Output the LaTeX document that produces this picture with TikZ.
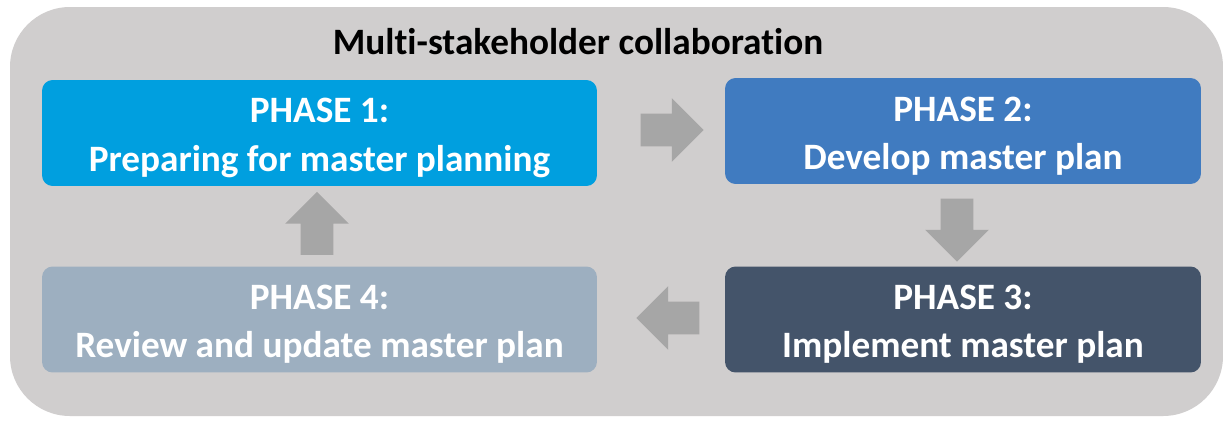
\documentclass[tikz,border=0pt]{standalone}
\usepackage{fontspec}
\setmainfont{Carlito}[Ligatures=NoCommon]
\usepackage{tikz}
\usetikzlibrary{arrows.meta,positioning,calc,shapes.arrows}
\definecolor{Frame}{HTML}{D0CECE}
\definecolor{ArrowGray}{HTML}{A6A6A6}
\definecolor{PhaseOne}{HTML}{009FDF}
\definecolor{PhaseTwo}{HTML}{407BC0}
\definecolor{PhaseThree}{HTML}{44546A}
\definecolor{PhaseFour}{HTML}{9DAFC0}
\tikzset{
  phase/.style={rounded corners=6pt,minimum height=2.12cm,align=center,inner sep=0pt,text=white,
    font=\fontsize{21.2}{27.5}\selectfont\bfseries,text height=1.65cm},
  phasewide/.style={phase,minimum width=11.1cm},
  phasenarrow/.style={phase,minimum width=9.52cm},
  blockarrow/.style={single arrow,fill=ArrowGray,draw=none,inner xsep=0pt,inner ysep=0.32cm,
    minimum height=1.26cm,single arrow head extend=0.31cm,single arrow tip angle=90,anchor=tail}
}
\begin{document}
\begin{tikzpicture}[x=0.02cm,y=-0.02cm]
\useasboundingbox[fill=white] (0,0) rectangle (1223,426);
\fill[Frame,rounded corners=1.2cm] (10,7) rectangle (1223,416);
\node[font=\fontsize{21.2}{25}\selectfont\bfseries] (title) at (578,42) {Multi-stakeholder collaboration};
% the four phases
\node[phasewide,fill=PhaseOne] (p1) at (319.5,133) {PHASE 1:\\Preparing for master planning};
\node[phasenarrow,fill=PhaseTwo] (p2) at (963,131) {PHASE 2:\\Develop master plan};
\node[phasenarrow,fill=PhaseThree] (p3) at (963,319.5) {PHASE 3:\\Implement master plan};
\node[phasewide,fill=PhaseFour] (p4) at (319.5,319.5) {PHASE 4:\\Review and update master plan};
% block arrows between them
\node[blockarrow] (a12) at ($(p1.east)+(43,-3)$) {};
\node[blockarrow,rotate=-90] (a23) at ($(p2.south)+(-6,14)$) {};
\node[blockarrow,rotate=180] (a34) at ($(p3.west)+(-25,-1.5)$) {};
\node[blockarrow,rotate=90] (a41) at ($(p4.north)+(-2.5,-11)$) {};
\end{tikzpicture}
\end{document}
